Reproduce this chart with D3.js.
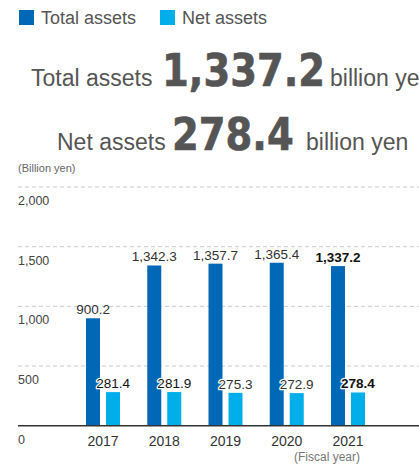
<!DOCTYPE html>
<html><head><meta charset="utf-8">
<script src="https://cdn.jsdelivr.net/npm/d3@7"></script>
<style>
html,body{margin:0;padding:0;background:#fff;overflow:hidden;}
svg{display:block;font-family:"Liberation Sans",Arial,sans-serif;}
</style></head>
<body>
<script>
const years = ["2017","2018","2019","2020","2021"];
const totalAssets = [900.2, 1342.3, 1357.7, 1365.4, 1337.2];
const netAssets = [281.4, 281.9, 275.3, 272.9, 278.4];
const yTicks = [0, 500, 1000, 1500, 2000];
const seriesKeys = ["total", "net"];
const seriesNames = ["Total assets", "Net assets"];
const colors = {total: "#0068b6", net: "#00aeea"};

const W = 419, H = 467;
const svg = d3.select("body").append("svg").attr("width", W).attr("height", H);

// Legend
seriesKeys.forEach((k, i) => {
  const lx = i === 0 ? 19 : 160;
  svg.append("rect").attr("x", lx).attr("y", 10).attr("width", 15).attr("height", 15).attr("fill", colors[k]);
  svg.append("text").attr("x", lx + 22).attr("y", 24).attr("font-size", 18).attr("fill", "#555").text(seriesNames[i]);
});

// Headline
function headline(y, label, value, xLabel, xNum, xUnit) {
  svg.append("text").attr("x", xLabel).attr("y", y).attr("fill", "#555").attr("font-size", 23).text(label);
  svg.append("text").attr("transform", `translate(${xNum},${y}) scale(1,1.14)`)
    .attr("font-family", "'DejaVu Sans',sans-serif").attr("font-weight", "bold")
    .attr("font-size", 38.5).attr("fill", "#555")
    .attr("stroke", "#555").attr("stroke-width", 0.6)
    .text(value);
  svg.append("text").attr("x", xUnit).attr("y", y).attr("fill", "#555").attr("font-size", 23).text("billion yen");
}
const lastIdx = years.length - 1;
headline(86, "Total assets", d3.format(",.1f")(totalAssets[lastIdx]), 31, 162, 330);
headline(149.5, "Net assets", d3.format(",.1f")(netAssets[lastIdx]), 57, 172, 306);

svg.append("text").attr("x", 18).attr("y", 172).attr("font-size", 11).attr("fill", "#666").text("(Billion yen)");

// Scales
const y = d3.scaleLinear().domain([0, 2000]).range([425.7, 187]);
const x = d3.scaleBand().domain(years).range([72.4, 378.6]).padding(0);
const xs = d3.scaleBand().domain(seriesKeys).range([-17, 17]).paddingInner(0.3);

// Gridlines
svg.append("g").selectAll("line").data(yTicks.filter(d => d > 0)).join("line")
  .attr("x1", 18).attr("x2", W).attr("y1", d => y(d)).attr("y2", d => y(d))
  .attr("stroke", "#ccc").attr("stroke-width", 1).attr("stroke-dasharray", "4,3");

// Y tick labels (below gridlines)
svg.append("g").selectAll("text").data(yTicks).join("text")
  .attr("x", 18).attr("y", d => y(d) + 18)
  .attr("font-size", 12.5).attr("fill", "#444")
  .text(d => d3.format(",")(d));

// Bars
const data = years.map((yr, i) => ({year: yr, total: totalAssets[i], net: netAssets[i], last: i === lastIdx}));
const g = svg.append("g");
const groups = g.selectAll("g").data(data).join("g")
  .attr("transform", d => `translate(${x(d.year) + x.bandwidth() / 2},0)`);
seriesKeys.forEach(k => {
  groups.append("rect")
    .attr("x", xs(k)).attr("width", xs.bandwidth())
    .attr("y", d => y(d[k])).attr("height", d => y(0) - y(d[k]))
    .attr("fill", colors[k]);
});

// Value labels
seriesKeys.forEach(k => {
  groups.append("text")
    .attr("x", xs(k) + xs.bandwidth() / 2)
    .attr("y", d => y(d[k]) - 4)
    .attr("text-anchor", "middle")
    .attr("font-size", 13.5)
    .attr("font-weight", d => d.last ? "bold" : "normal")
    .attr("fill", d => d.last ? "#111" : (k === "net" && d.net > 280 ? "#111" : "#333"))
    .attr("stroke", "#fff").attr("stroke-width", k === "net" ? 2.5 : 0)
    .attr("stroke-linejoin", "round")
    .attr("paint-order", "stroke")
    .text(d => d3.format(",.1f")(d[k]));
});

// Baseline
svg.append("line").attr("x1", 18).attr("x2", W).attr("y1", y(0)).attr("y2", y(0))
  .attr("stroke", "#333").attr("stroke-width", 1.5);

// X labels
svg.append("g").selectAll("text").data(years).join("text")
  .attr("x", d => x(d) + x.bandwidth() / 2).attr("y", 446)
  .attr("text-anchor", "middle").attr("font-size", 14).attr("fill", "#333")
  .text(d => d);

svg.append("text").attr("x", 327).attr("y", 461).attr("text-anchor", "middle")
  .attr("font-size", 12).attr("fill", "#777").text("(Fiscal year)");
</script>
</body></html>
